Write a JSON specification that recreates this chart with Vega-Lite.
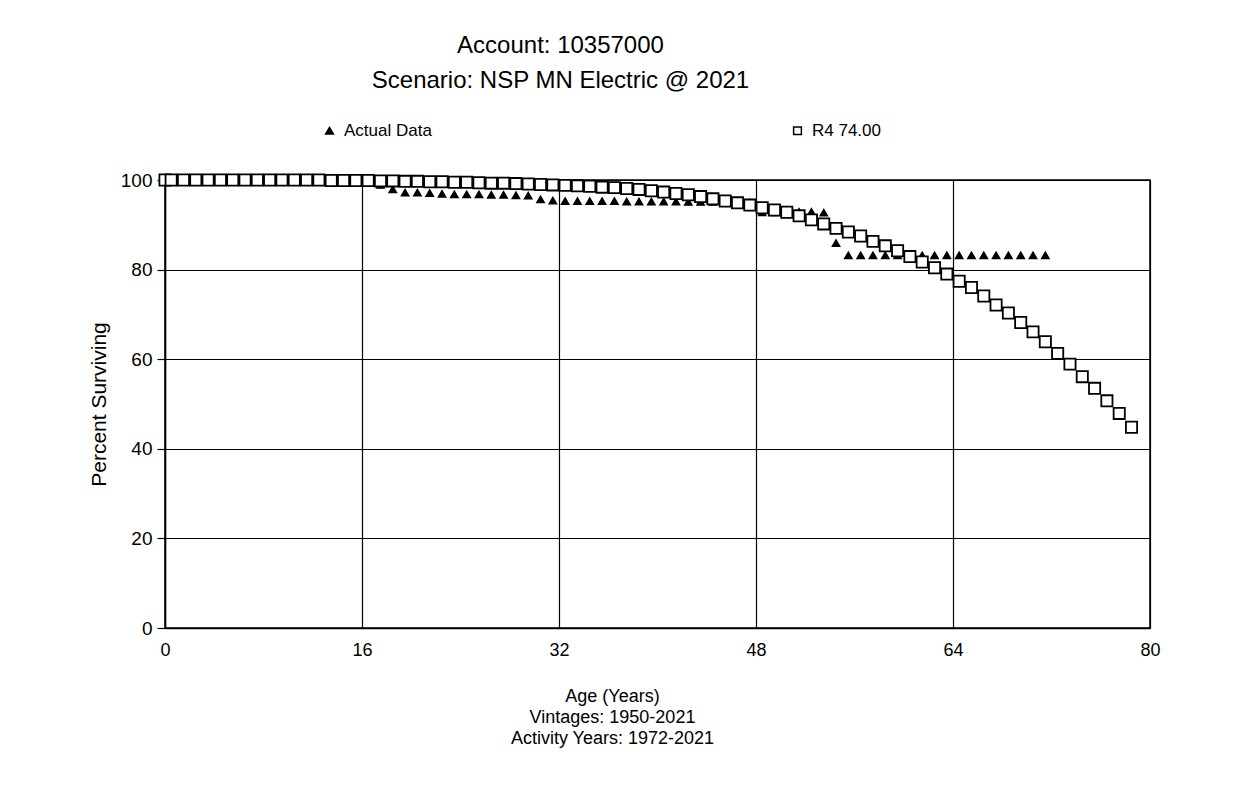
{
  "$schema": "https://vega.github.io/schema/vega-lite/v6.json",
  "width": 985,
  "height": 448,
  "autosize": {"type": "none"},
  "padding": {"left": 165, "top": 180, "right": 90, "bottom": 168},
  "background": "white",
  "title": {
    "text": ["Account: 10357000", "Scenario: NSP MN Electric @ 2021"],
    "font": "Liberation Sans",
    "fontSize": 24,
    "fontWeight": "normal",
    "color": "black",
    "lineHeight": 35,
    "anchor": "middle",
    "dx": -97,
    "offset": 29
  },
  "data": {
    "values": [
      {"series": "Actual Data", "age": 0, "pct": 100},
      {"series": "Actual Data", "age": 0.5, "pct": 100},
      {"series": "Actual Data", "age": 1.5, "pct": 100},
      {"series": "Actual Data", "age": 2.5, "pct": 100},
      {"series": "Actual Data", "age": 3.5, "pct": 100},
      {"series": "Actual Data", "age": 4.5, "pct": 100},
      {"series": "Actual Data", "age": 5.5, "pct": 100},
      {"series": "Actual Data", "age": 6.5, "pct": 100},
      {"series": "Actual Data", "age": 7.5, "pct": 100},
      {"series": "Actual Data", "age": 8.5, "pct": 100},
      {"series": "Actual Data", "age": 9.5, "pct": 100},
      {"series": "Actual Data", "age": 10.5, "pct": 100},
      {"series": "Actual Data", "age": 11.5, "pct": 100},
      {"series": "Actual Data", "age": 12.5, "pct": 100},
      {"series": "Actual Data", "age": 13.5, "pct": 100},
      {"series": "Actual Data", "age": 14.5, "pct": 100},
      {"series": "Actual Data", "age": 15.5, "pct": 99.9},
      {"series": "Actual Data", "age": 16.5, "pct": 99.5},
      {"series": "Actual Data", "age": 17.5, "pct": 98.9},
      {"series": "Actual Data", "age": 18.5, "pct": 97.9},
      {"series": "Actual Data", "age": 19.5, "pct": 97.2},
      {"series": "Actual Data", "age": 20.5, "pct": 97.2},
      {"series": "Actual Data", "age": 21.5, "pct": 97.1},
      {"series": "Actual Data", "age": 22.5, "pct": 96.9},
      {"series": "Actual Data", "age": 23.5, "pct": 96.8},
      {"series": "Actual Data", "age": 24.5, "pct": 96.8},
      {"series": "Actual Data", "age": 25.5, "pct": 96.8},
      {"series": "Actual Data", "age": 26.5, "pct": 96.7},
      {"series": "Actual Data", "age": 27.5, "pct": 96.7},
      {"series": "Actual Data", "age": 28.5, "pct": 96.6},
      {"series": "Actual Data", "age": 29.5, "pct": 96.5},
      {"series": "Actual Data", "age": 30.5, "pct": 95.7},
      {"series": "Actual Data", "age": 31.5, "pct": 95.4},
      {"series": "Actual Data", "age": 32.5, "pct": 95.3},
      {"series": "Actual Data", "age": 33.5, "pct": 95.3},
      {"series": "Actual Data", "age": 34.5, "pct": 95.3},
      {"series": "Actual Data", "age": 35.5, "pct": 95.3},
      {"series": "Actual Data", "age": 36.5, "pct": 95.3},
      {"series": "Actual Data", "age": 37.5, "pct": 95.2},
      {"series": "Actual Data", "age": 38.5, "pct": 95.2},
      {"series": "Actual Data", "age": 39.5, "pct": 95.2},
      {"series": "Actual Data", "age": 40.5, "pct": 95.2},
      {"series": "Actual Data", "age": 41.5, "pct": 95.2},
      {"series": "Actual Data", "age": 42.5, "pct": 95.1},
      {"series": "Actual Data", "age": 43.5, "pct": 95.1},
      {"series": "Actual Data", "age": 44.5, "pct": 95.1},
      {"series": "Actual Data", "age": 45.5, "pct": 95.1},
      {"series": "Actual Data", "age": 46.5, "pct": 95.0},
      {"series": "Actual Data", "age": 47.5, "pct": 95.0},
      {"series": "Actual Data", "age": 48.5, "pct": 92.8},
      {"series": "Actual Data", "age": 49.5, "pct": 92.8},
      {"series": "Actual Data", "age": 50.5, "pct": 92.8},
      {"series": "Actual Data", "age": 51.5, "pct": 92.9},
      {"series": "Actual Data", "age": 52.5, "pct": 92.9},
      {"series": "Actual Data", "age": 53.5, "pct": 92.7},
      {"series": "Actual Data", "age": 54.5, "pct": 85.9},
      {"series": "Actual Data", "age": 55.5, "pct": 83.2},
      {"series": "Actual Data", "age": 56.5, "pct": 83.2},
      {"series": "Actual Data", "age": 57.5, "pct": 83.2},
      {"series": "Actual Data", "age": 58.5, "pct": 83.2},
      {"series": "Actual Data", "age": 59.5, "pct": 83.2},
      {"series": "Actual Data", "age": 60.5, "pct": 83.2},
      {"series": "Actual Data", "age": 61.5, "pct": 83.2},
      {"series": "Actual Data", "age": 62.5, "pct": 83.2},
      {"series": "Actual Data", "age": 63.5, "pct": 83.2},
      {"series": "Actual Data", "age": 64.5, "pct": 83.2},
      {"series": "Actual Data", "age": 65.5, "pct": 83.2},
      {"series": "Actual Data", "age": 66.5, "pct": 83.2},
      {"series": "Actual Data", "age": 67.5, "pct": 83.2},
      {"series": "Actual Data", "age": 68.5, "pct": 83.2},
      {"series": "Actual Data", "age": 69.5, "pct": 83.2},
      {"series": "Actual Data", "age": 70.5, "pct": 83.2},
      {"series": "Actual Data", "age": 71.5, "pct": 83.2},
      {"series": "R4 74.00", "age": 0, "pct": 100},
      {"series": "R4 74.00", "age": 0.5, "pct": 100},
      {"series": "R4 74.00", "age": 1.5, "pct": 100},
      {"series": "R4 74.00", "age": 2.5, "pct": 100},
      {"series": "R4 74.00", "age": 3.5, "pct": 100},
      {"series": "R4 74.00", "age": 4.5, "pct": 100},
      {"series": "R4 74.00", "age": 5.5, "pct": 100},
      {"series": "R4 74.00", "age": 6.5, "pct": 100},
      {"series": "R4 74.00", "age": 7.5, "pct": 100},
      {"series": "R4 74.00", "age": 8.5, "pct": 100},
      {"series": "R4 74.00", "age": 9.5, "pct": 100},
      {"series": "R4 74.00", "age": 10.5, "pct": 100},
      {"series": "R4 74.00", "age": 11.5, "pct": 100},
      {"series": "R4 74.00", "age": 12.5, "pct": 100},
      {"series": "R4 74.00", "age": 13.5, "pct": 99.9},
      {"series": "R4 74.00", "age": 14.5, "pct": 99.9},
      {"series": "R4 74.00", "age": 15.5, "pct": 99.9},
      {"series": "R4 74.00", "age": 16.5, "pct": 99.9},
      {"series": "R4 74.00", "age": 17.5, "pct": 99.8},
      {"series": "R4 74.00", "age": 18.5, "pct": 99.8},
      {"series": "R4 74.00", "age": 19.5, "pct": 99.7},
      {"series": "R4 74.00", "age": 20.5, "pct": 99.7},
      {"series": "R4 74.00", "age": 21.5, "pct": 99.6},
      {"series": "R4 74.00", "age": 22.5, "pct": 99.6},
      {"series": "R4 74.00", "age": 23.5, "pct": 99.5},
      {"series": "R4 74.00", "age": 24.5, "pct": 99.5},
      {"series": "R4 74.00", "age": 25.5, "pct": 99.4},
      {"series": "R4 74.00", "age": 26.5, "pct": 99.3},
      {"series": "R4 74.00", "age": 27.5, "pct": 99.3},
      {"series": "R4 74.00", "age": 28.5, "pct": 99.2},
      {"series": "R4 74.00", "age": 29.5, "pct": 99.1},
      {"series": "R4 74.00", "age": 30.5, "pct": 99.0},
      {"series": "R4 74.00", "age": 31.5, "pct": 98.9},
      {"series": "R4 74.00", "age": 32.5, "pct": 98.8},
      {"series": "R4 74.00", "age": 33.5, "pct": 98.7},
      {"series": "R4 74.00", "age": 34.5, "pct": 98.6},
      {"series": "R4 74.00", "age": 35.5, "pct": 98.4},
      {"series": "R4 74.00", "age": 36.5, "pct": 98.3},
      {"series": "R4 74.00", "age": 37.5, "pct": 98.1},
      {"series": "R4 74.00", "age": 38.5, "pct": 97.9},
      {"series": "R4 74.00", "age": 39.5, "pct": 97.6},
      {"series": "R4 74.00", "age": 40.5, "pct": 97.3},
      {"series": "R4 74.00", "age": 41.5, "pct": 97.0},
      {"series": "R4 74.00", "age": 42.5, "pct": 96.7},
      {"series": "R4 74.00", "age": 43.5, "pct": 96.3},
      {"series": "R4 74.00", "age": 44.5, "pct": 95.8},
      {"series": "R4 74.00", "age": 45.5, "pct": 95.3},
      {"series": "R4 74.00", "age": 46.5, "pct": 94.9},
      {"series": "R4 74.00", "age": 47.5, "pct": 94.4},
      {"series": "R4 74.00", "age": 48.5, "pct": 93.8},
      {"series": "R4 74.00", "age": 49.5, "pct": 93.3},
      {"series": "R4 74.00", "age": 50.5, "pct": 92.8},
      {"series": "R4 74.00", "age": 51.5, "pct": 92.0},
      {"series": "R4 74.00", "age": 52.5, "pct": 91.1},
      {"series": "R4 74.00", "age": 53.5, "pct": 90.2},
      {"series": "R4 74.00", "age": 54.5, "pct": 89.2},
      {"series": "R4 74.00", "age": 55.5, "pct": 88.4},
      {"series": "R4 74.00", "age": 56.5, "pct": 87.5},
      {"series": "R4 74.00", "age": 57.5, "pct": 86.3},
      {"series": "R4 74.00", "age": 58.5, "pct": 85.3},
      {"series": "R4 74.00", "age": 59.5, "pct": 84.2},
      {"series": "R4 74.00", "age": 60.5, "pct": 82.9},
      {"series": "R4 74.00", "age": 61.5, "pct": 81.7},
      {"series": "R4 74.00", "age": 62.5, "pct": 80.4},
      {"series": "R4 74.00", "age": 63.5, "pct": 79.0},
      {"series": "R4 74.00", "age": 64.5, "pct": 77.4},
      {"series": "R4 74.00", "age": 65.5, "pct": 76.0},
      {"series": "R4 74.00", "age": 66.5, "pct": 74.1},
      {"series": "R4 74.00", "age": 67.5, "pct": 72.1},
      {"series": "R4 74.00", "age": 68.5, "pct": 70.3},
      {"series": "R4 74.00", "age": 69.5, "pct": 68.2},
      {"series": "R4 74.00", "age": 70.5, "pct": 66.1},
      {"series": "R4 74.00", "age": 71.5, "pct": 63.9},
      {"series": "R4 74.00", "age": 72.5, "pct": 61.3},
      {"series": "R4 74.00", "age": 73.5, "pct": 58.9},
      {"series": "R4 74.00", "age": 74.5, "pct": 56.1},
      {"series": "R4 74.00", "age": 75.5, "pct": 53.5},
      {"series": "R4 74.00", "age": 76.5, "pct": 50.7},
      {"series": "R4 74.00", "age": 77.5, "pct": 47.9},
      {"series": "R4 74.00", "age": 78.5, "pct": 44.8}
    ]
  },
  "encoding": {
    "x": {
      "field": "age",
      "type": "quantitative",
      "scale": {"domain": [0, 80], "nice": false, "zero": false},
      "axis": {
        "values": [0, 16, 32, 48, 64, 80],
        "ticks": false,
        "labelFlush": false,
        "labelPadding": 13,
        "labelFontSize": 18,
        "title": ["Age (Years)", "Vintages: 1950-2021", "Activity Years: 1972-2021"],
        "titleFontSize": 18,
        "titleLineHeight": 21,
        "titleX": 447,
        "titleAnchor": "middle",
        "titlePadding": 28
      }
    },
    "y": {
      "field": "pct",
      "type": "quantitative",
      "scale": {"domain": [0, 100], "nice": false},
      "axis": {
        "values": [0, 20, 40, 60, 80, 100],
        "tickSize": 8,
        "labelPadding": 5,
        "labelFontSize": 19,
        "title": "Percent Surviving",
        "titleFontSize": 21,
        "titlePadding": 11
      }
    },
    "shape": {
      "field": "series",
      "type": "nominal",
      "scale": {"domain": ["Actual Data", "R4 74.00"], "range": ["triangle-up", "square"]},
      "legend": {
        "title": null,
        "orient": "none",
        "legendX": 156,
        "legendY": -58,
        "direction": "horizontal",
        "columns": 2,
        "columnPadding": 357,
        "encode": {
          "symbols": {
            "update": {
              "stroke": {"value": "black"},
              "strokeWidth": {"value": 1.2},
              "size": {"value": 60}
            }
          }
        }
      }
    },
    "fill": {
      "field": "series",
      "type": "nominal",
      "scale": {"domain": ["Actual Data", "R4 74.00"], "range": ["black", "white"]},
      "legend": {
        "title": null,
        "orient": "none",
        "legendX": 156,
        "legendY": -58,
        "direction": "horizontal",
        "columns": 2,
        "columnPadding": 357,
        "encode": {
          "symbols": {
            "update": {
              "stroke": {"value": "black"},
              "strokeWidth": {"value": 1.2},
              "size": {"value": 60}
            }
          }
        }
      }
    }
  },
  "layer": [
    {
      "transform": [{"filter": "datum.series === 'Actual Data'"}],
      "mark": {"type": "point", "filled": true, "stroke": "black", "strokeWidth": 1.4, "size": 55, "opacity": 1}
    },
    {
      "transform": [{"filter": "datum.series === 'R4 74.00'"}],
      "mark": {"type": "point", "filled": true, "stroke": "black", "strokeWidth": 1.8, "size": 125, "opacity": 1}
    }
  ],
  "config": {
    "font": "Liberation Sans",
    "view": {"stroke": "black", "strokeWidth": 1.5},
    "axis": {
      "grid": true,
      "gridColor": "black",
      "gridOpacity": 1,
      "gridWidth": 1.2,
      "domainColor": "black",
      "domainWidth": 1.5,
      "tickColor": "black",
      "tickWidth": 1.2,
      "labelColor": "black",
      "titleColor": "black",
      "labelFont": "Liberation Sans",
      "titleFont": "Liberation Sans",
      "titleFontWeight": "normal"
    },
    "legend": {
      "symbolSize": 60,
      "labelFont": "Liberation Sans",
      "labelFontSize": 17,
      "labelColor": "black",
      "labelOffset": 6
    }
  }
}
